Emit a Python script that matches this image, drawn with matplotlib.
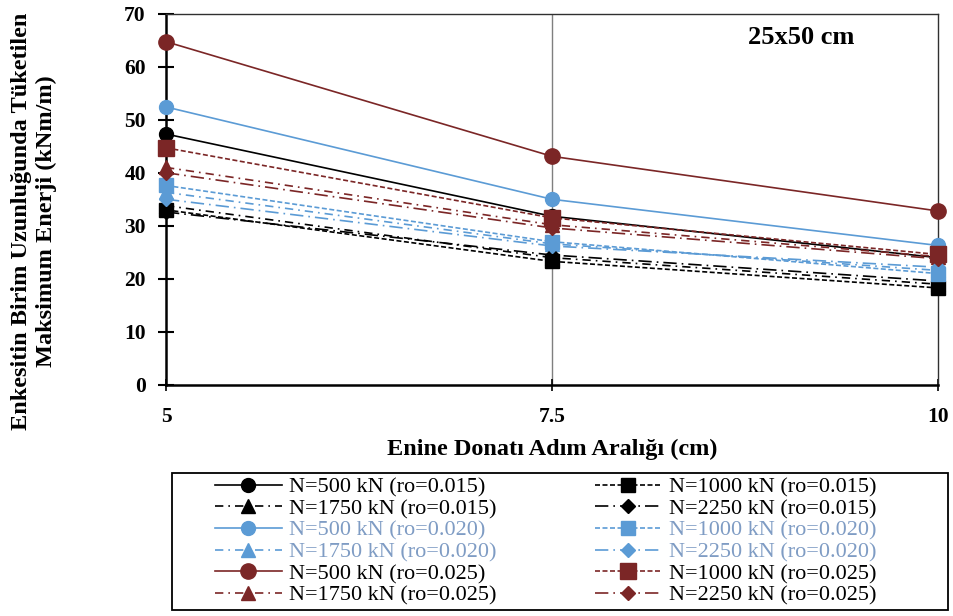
import matplotlib.pyplot as plt
from matplotlib.patches import Rectangle

plt.rcParams['font.family'] = ['Liberation Serif', 'DejaVu Serif']

# adım aralığı (cm)
spacing = [5, 7.5, 10]

# ro = 0.015
e500_015 = [47.3, 31.8, 24.0]
e1000_015 = [33.0, 23.3, 18.3]
e1750_015 = [33.8, 24.0, 19.0]
e2250_015 = [32.6, 24.5, 19.6]
# ro = 0.020
e500_020 = [52.4, 35.0, 26.3]
e1000_020 = [37.6, 27.0, 21.0]
e1750_020 = [36.3, 26.6, 21.6]
e2250_020 = [35.0, 26.2, 22.2]
# ro = 0.025
e500_025 = [64.7, 43.1, 32.8]
e1000_025 = [44.7, 31.5, 24.6]
e1750_025 = [41.0, 30.2, 24.2]
e2250_025 = [40.0, 29.6, 23.8]

black = '#000000'
blue = '#5b9bd5'
red = '#7b2626'

fig = plt.figure(figsize=(9.54, 6.16), dpi=100)
ax = fig.add_axes([0.174, 0.375, 0.809, 0.603])

solid = '-'
short_dash = (0, (3, 1.5))
dash_dot = (0, (5, 3, 1, 3))
long_dash_dot = (0, (8, 3, 1, 3))

series = [
    # (data, label, color, linestyle, marker, markersize)
    (e500_015, 'N=500 kN (ro=0.015)', black, solid, 'o', 10),
    (e1750_015, 'N=1750 kN (ro=0.015)', black, dash_dot, '^', 10),
    (e500_020, 'N=500 kN (ro=0.020)', blue, solid, 'o', 10),
    (e1750_020, 'N=1750 kN (ro=0.020)', blue, dash_dot, '^', 10),
    (e500_025, 'N=500 kN (ro=0.025)', red, solid, 'o', 11),
    (e1750_025, 'N=1750 kN (ro=0.025)', red, dash_dot, '^', 10),
    (e1000_015, 'N=1000 kN (ro=0.015)', black, short_dash, 's', 10),
    (e2250_015, 'N=2250 kN (ro=0.015)', black, long_dash_dot, 'D', 7),
    (e1000_020, 'N=1000 kN (ro=0.020)', blue, short_dash, 's', 10),
    (e2250_020, 'N=2250 kN (ro=0.020)', blue, long_dash_dot, 'D', 7),
    (e1000_025, 'N=1000 kN (ro=0.025)', red, short_dash, 's', 11),
    (e2250_025, 'N=2250 kN (ro=0.025)', red, long_dash_dot, 'D', 7),
]

handles = []
text_colors = []
for data, label, color, ls, marker, ms in series:
    h, = ax.plot(spacing, data, color=color, linestyle=ls, linewidth=1.2,
                 marker=marker, markersize=ms, label=label, clip_on=False, zorder=3)
    handles.append(h)
    text_colors.append('#7f9cc4' if color == blue else black)

ax.set_xlim(5, 10)
ax.set_ylim(0, 70)
ax.set_xticks(spacing)
ax.set_xticklabels(['5', '7.5', '10'])
ax.set_yticks(range(0, 71, 10))

# 7.5 cm'de dikey ızgara çizgisi
ax.axvline(7.5, color='#7f7f7f', linewidth=1.0, zorder=1)

for side in ['top', 'right']:
    ax.spines[side].set_color('#303030')
    ax.spines[side].set_linewidth(1.0)
ax.spines['left'].set_linewidth(1.8)
ax.spines['bottom'].set_linewidth(1.8)
ax.tick_params(axis='y', direction='inout', length=11, width=1.5, labelsize=15.5, pad=9)
ax.tick_params(axis='x', direction='inout', length=8, width=1.2, labelsize=15.5, pad=12)
for t in ax.get_xticklabels() + ax.get_yticklabels():
    t.set_fontweight('bold')

ax.set_xlabel('Enine Donatı Adım Aralığı (cm)', fontsize=17.5, fontweight='bold', labelpad=8)
ax.set_ylabel('Enkesitin Birim Uzunluğunda Tüketilen\nMaksimum Enerji (kNm/m)',
              fontsize=17.5, fontweight='bold', linespacing=1.25)
ax.yaxis.set_label_coords(-0.141, 0.44)

ax.text(0.823, 0.935, '25x50 cm', transform=ax.transAxes, fontsize=19,
        fontweight='bold', ha='center', va='center')

# lejant çerçevesi
fig.patches.append(Rectangle((172 / 954, 6 / 616), 776 / 954, 137 / 616,
                             transform=fig.transFigure, fill=False,
                             edgecolor='black', linewidth=1.3))

leg = fig.legend(handles=handles, ncol=2, loc='upper left',
                 bbox_to_anchor=(215 / 954, 1 - 477 / 616),
                 fontsize=16, frameon=False, handlelength=3.0,
                 labelspacing=0.05, borderpad=0.0, borderaxespad=0.0,
                 handletextpad=0.35, columnspacing=4.4)
for txt, c in zip(leg.get_texts(), text_colors):
    txt.set_color(c)

fig.savefig('out.png', dpi=100)
